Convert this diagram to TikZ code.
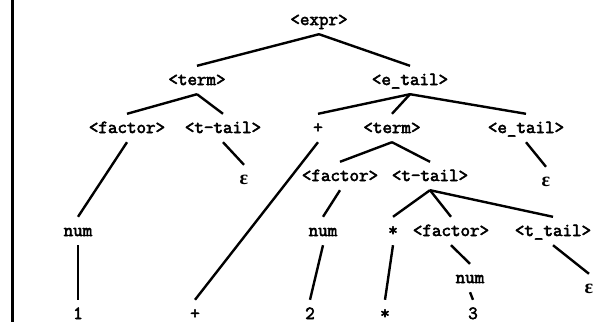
\documentclass[tikz,border=0pt]{standalone}
\usepackage{fontspec}
\newfontfamily\treefont[FakeBold=3]{Latin Modern Mono}
\newfontfamily\epsfont{Liberation Serif}
\begin{document}
\begin{tikzpicture}[x=1pt,y=-1pt,
  lbl/.style={font=\treefont\fontsize{18.5}{19}\selectfont, inner xsep=0pt, inner ysep=9pt, text height=10pt, text depth=0pt},
  eps/.style={lbl, font=\epsfont\bfseries\fontsize{20}{20}\selectfont},
  edge/.style={line width=2.4pt}]
\useasboundingbox (0,0) rectangle (600,322);
\draw[line width=3pt] (12,0) -- (12,322);
\node[lbl] (expr) at (319,20) {<expr>};
\node[lbl] (term1) at (197,80) {<term>};
\node[lbl] (etail1) at (410,80) {<e\_tail>};
\node[lbl] (factor1) at (127,128) {<factor>};
\node[lbl] (ttail1) at (223,128) {<t-tail>};
\node[lbl] (plus1) at (318,128) {+};
\node[lbl] (term2) at (392,128) {<term>};
\node[lbl] (etail2) at (526,128) {<e\_tail>};
\node[eps] (eps1) at (244,179) {ε};
\node[lbl] (factor2) at (340,176) {<factor>};
\node[lbl] (ttail2) at (430,176) {<t-tail>};
\node[eps] (eps2) at (546,181) {ε};
\node[lbl] (num1) at (78,231) {num};
\node[lbl] (num2) at (323,231) {num};
\node[lbl] (star1) at (393,231) {*};
\node[lbl] (factor3) at (451,231) {<factor>};
\node[lbl] (ttail3) at (553,231) {<t\_tail>};
\node[lbl] (num3) at (470,278) {num};
\node[eps] (eps3) at (589,288) {ε};
\node[lbl] (one) at (78,314) {1};
\node[lbl] (plus2) at (195,314) {+};
\node[lbl] (two) at (310,314) {2};
\node[lbl] (star2) at (385,314) {*};
\node[lbl] (three) at (473,314) {3};
\draw[edge] (expr.south) -- (term1.north);
\draw[edge] (expr.south) -- (etail1.north);
\draw[edge] (term1.south) -- (factor1.north);
\draw[edge] (term1.south) -- (ttail1.north);
\draw[edge] (etail1.south) -- (plus1.north);
\draw[edge] (etail1.south) -- (term2.north);
\draw[edge] (etail1.south) -- (etail2.north);
\draw[edge] (factor1.south) -- (num1.north);
\draw[edge] (ttail1.south) -- (eps1.north);
\draw[edge] (plus1.south) -- (plus2.north);
\draw[edge] (term2.south) -- (factor2.north);
\draw[edge] (term2.south) -- (ttail2.north);
\draw[edge] (etail2.south) -- (eps2.north);
\draw[edge] (factor2.south) -- (num2.north);
\draw[edge] (ttail2.south) -- (star1.north);
\draw[edge] (ttail2.south) -- (factor3.north);
\draw[edge] (ttail2.south) -- (ttail3.north);
\draw[edge] (num1.south) -- (one.north);
\draw[edge] (num2.south) -- (two.north);
\draw[edge] (star1.south) -- (star2.north);
\draw[edge] (factor3.south) -- (num3.north);
\draw[edge] (num3.south) -- (three.north);
\draw[edge] (ttail3.south) -- (eps3.north);
\end{tikzpicture}
\end{document}
